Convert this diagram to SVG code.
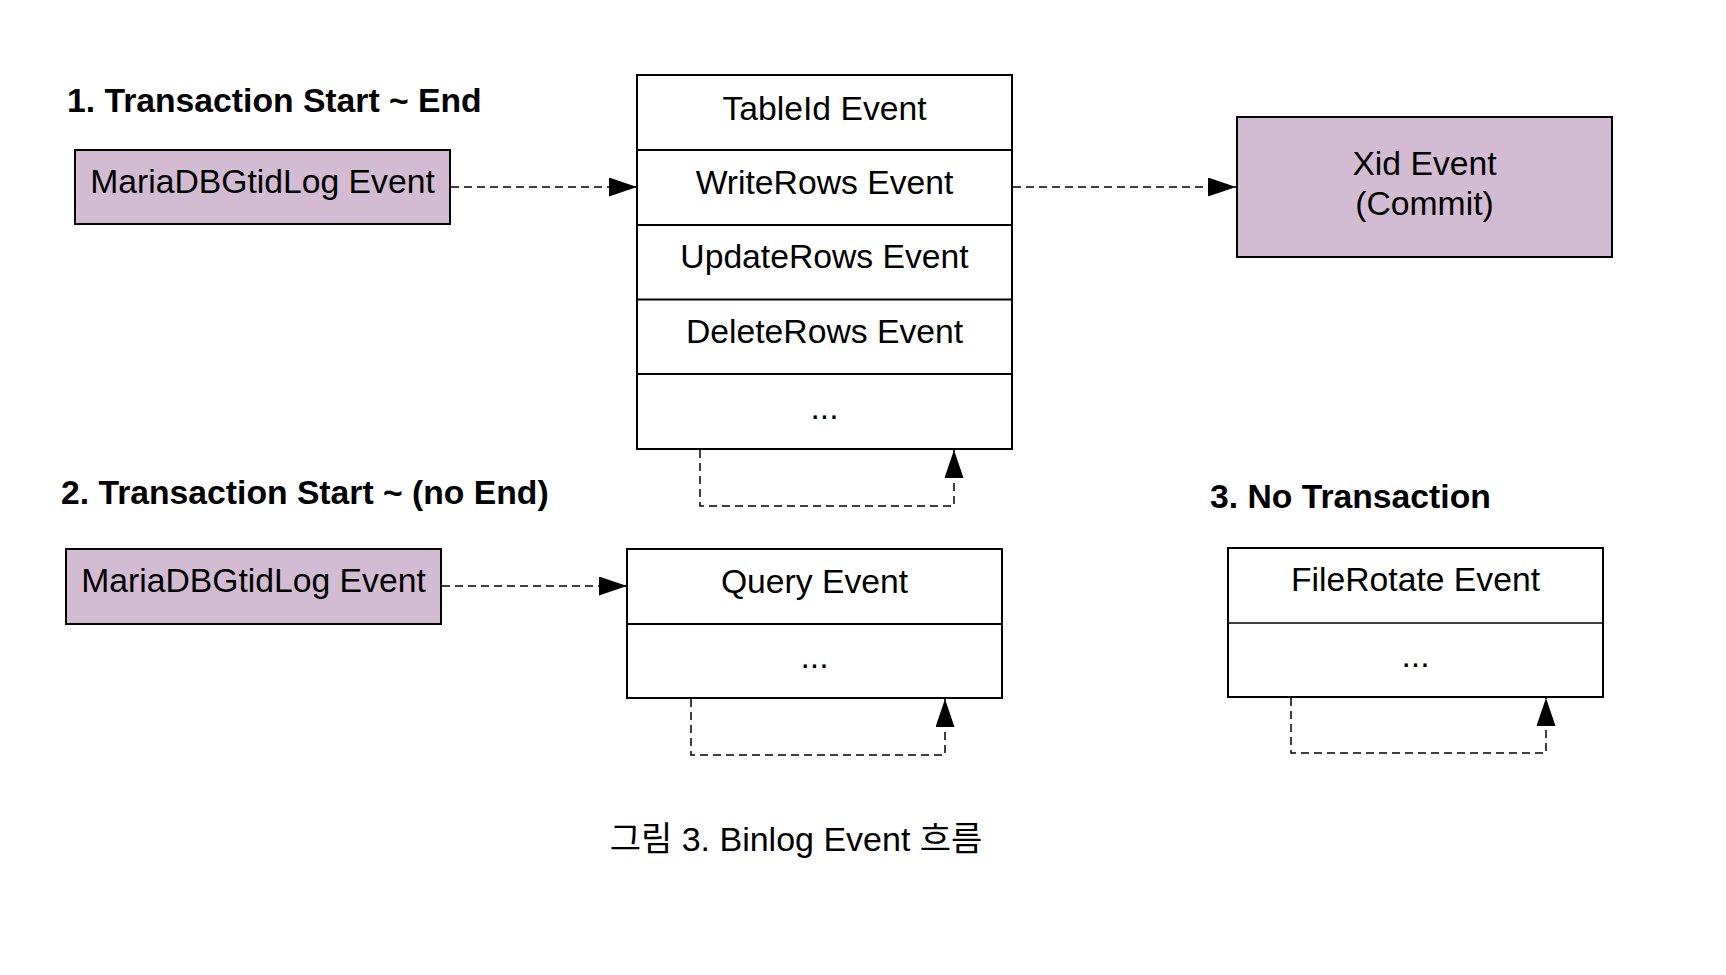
<svg xmlns="http://www.w3.org/2000/svg" width="1726" height="975" viewBox="0 0 1726 975">
  <style>
    .t { font-family: "Liberation Sans", Arial, sans-serif; font-size: 33.7px; fill: #000; text-anchor: middle; }
    .h { font-family: "Liberation Sans", Arial, sans-serif; font-size: 33.7px; font-weight: bold; fill: #000; }
    .cap { font-family: "Liberation Sans", "Noto Sans CJK KR", sans-serif; font-size: 34px; fill: #000; text-anchor: middle; }
    .box { stroke: #000; stroke-width: 2; }
    .pur { fill: #d3bbd3; }
    .wht { fill: #fff; }
    .sep { stroke: #000; stroke-width: 2; fill: none; }
    .sep1 { stroke: #000; stroke-width: 1.5; fill: none; }
    .dash { stroke: #000; stroke-width: 1.5; fill: none; stroke-dasharray: 8 5; }
  </style>
  <defs>
    <marker id="arr" markerUnits="userSpaceOnUse" markerWidth="28" markerHeight="19" viewBox="0 0 28 19" refX="28" refY="9.5" orient="auto">
      <path d="M0,0 L28,9.5 L0,19 z" fill="#000"/>
    </marker>
  </defs>
  <rect width="1726" height="975" fill="#fff"/>

  <text class="h" x="67" y="112">1. Transaction Start ~ End</text>
  <text class="h" x="61" y="504">2. Transaction Start ~ (no End)</text>
  <text class="h" x="1210" y="508">3. No Transaction</text>

  <g id="gtid1">
    <rect class="box pur" x="75" y="150" width="375" height="74"/>
    <text class="t" x="262.5" y="193">MariaDBGtidLog Event</text>
  </g>

  <g id="rows-table">
    <rect class="box wht" x="637" y="75" width="375" height="374"/>
    <path class="sep" d="M637,150 H1012 M637,225 H1012 M637,299.5 H1012 M637,374 H1012"/>
    <text class="t" x="824.5" y="120">TableId Event</text>
    <text class="t" x="824.5" y="194">WriteRows Event</text>
    <text class="t" x="824.5" y="268">UpdateRows Event</text>
    <text class="t" x="824.5" y="343">DeleteRows Event</text>
    <text class="t" x="824.5" y="419">...</text>
  </g>

  <g id="xid">
    <rect class="box pur" x="1237" y="117" width="375" height="140"/>
    <text class="t" x="1424.5" y="175">Xid Event</text>
    <text class="t" x="1424.5" y="215">(Commit)</text>
  </g>

  <g id="gtid2">
    <rect class="box pur" x="66" y="549" width="375" height="75"/>
    <text class="t" x="253.5" y="592">MariaDBGtidLog Event</text>
  </g>

  <g id="query-table">
    <rect class="box wht" x="627" y="549" width="375" height="149"/>
    <path class="sep" d="M627,624 H1002"/>
    <text class="t" x="814.5" y="593">Query Event</text>
    <text class="t" x="814.5" y="668">...</text>
  </g>

  <g id="filerotate-table">
    <rect class="box wht" x="1228" y="548" width="375" height="149"/>
    <path class="sep1" d="M1228,623 H1603"/>
    <text class="t" x="1415.5" y="591">FileRotate Event</text>
    <text class="t" x="1415.5" y="667">...</text>
  </g>

  <g id="connectors">
    <path class="dash" d="M451,187 H637" marker-end="url(#arr)"/>
    <path class="dash" d="M1013,187 H1236" marker-end="url(#arr)"/>
    <path class="dash" d="M700,450 V506 H954 V450" marker-end="url(#arr)"/>
    <path class="dash" d="M442,586 H627" marker-end="url(#arr)"/>
    <path class="dash" d="M691,699 V755 H945 V699" marker-end="url(#arr)"/>
    <path class="dash" d="M1291,698 V753 H1546 V698" marker-end="url(#arr)"/>
  </g>

  <text class="cap" x="796" y="851">그림 3. Binlog Event 흐름</text>
</svg>
